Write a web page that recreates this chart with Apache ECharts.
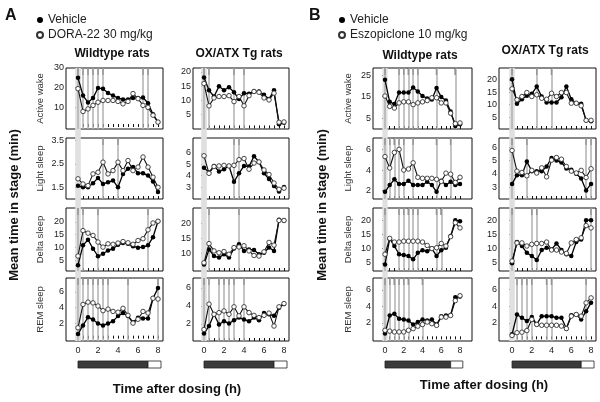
<!DOCTYPE html>
<html><head><meta charset="utf-8">
<script src="https://cdn.jsdelivr.net/npm/echarts@6/dist/echarts.min.js"></script>
<style>html,body{margin:0;padding:0;background:#fff}#c{width:600px;height:402px}</style>
</head><body><div id="c"></div><script>
const hours = [0,0.5,1,1.5,2,2.5,3,3.5,4,4.5,5,5.5,6,6.5,7,7.5,8];
const xLabelValues = [0,2,4,6,8];
const stageNames = ['Active wake','Light sleep','Delta sleep','REM sleep'];
const lightDark = [[0,7],[7,8.3]];

// Panel A, wildtype
const aWtWakeVeh  = [25,16,12.5,14.7,19.8,19.5,17.3,16,14.7,14,14,14.7,14.7,15,12.1,6.5,2.5];
const aWtWakeDrug = [19.5,7.9,9.2,11,12.6,13.5,13.5,13.5,13,11.8,13,17,14.4,11,10,6,2.5];
const aWtLightVeh  = [1.57,1.5,1.5,1.67,1.9,1.64,1.71,1.79,1.5,2.07,2.29,2.36,2.1,2.1,2.0,1.75,1.3];
const aWtLightDrug = [1.86,1.64,1.57,2.07,2.14,2.57,2.07,2.21,2.57,2.21,2.64,2.21,2.36,2.79,2.36,1.93,1.5];
const aWtDeltaVeh  = [3,10.8,13,9.5,6.5,7.5,8.8,9.5,11,11.7,11.4,10.4,9.9,10.1,10.8,14,20.3];
const aWtDeltaDrug = [6.6,16.6,15.6,14.7,12.1,10.1,11.4,11.2,11.7,12.3,11.8,11.2,12.7,13.4,16.9,19.6,20.3];
const aWtRemVeh  = [0.6,1.7,2.75,2.45,1.95,1.7,1.95,2.25,2.9,3.3,2.9,2.1,2.7,2.6,2.6,5.2,6.5];
const aWtRemDrug = [1.4,4.4,4.7,4.6,4.2,3.6,3.8,3.5,3.4,3.9,3.0,2.0,2.5,3.5,3.3,5.2,5.1];
// Panel A, OX/ATX Tg
const aTgWakeVeh  = [18,13.5,11.3,14.9,13.5,14.6,12.8,10.4,12.5,12.3,13.1,13.1,11.9,10.4,13.5,1.5,2.0];
const aTgWakeDrug = [15.9,8,10.8,11.3,11.3,11.6,9.5,11.3,8,11.6,13.1,12.8,10.8,10.1,12.5,2.2,2.3];
const aTgLightVeh  = [4.7,4.27,4.85,4.36,4.56,4.85,3.46,4.2,4.85,4.8,5.7,5.2,4.2,3.7,3.1,2.6,3.0];
const aTgLightDrug = [5.74,4.2,4.8,4.85,4.9,4.85,4.9,5.4,5.5,4.56,5.1,5.2,4.5,4.1,3.35,2.8,2.9];
const aTgDeltaVeh  = [6.4,11.4,9.2,8.7,9.8,8.7,11.7,13.1,10.9,11.4,11.2,9.8,10.3,12,10.9,21.1,20.9];
const aTgDeltaDrug = [7,13.3,10.9,10.3,10.7,9.8,12,12.2,12.6,10.9,9.4,9.2,10.6,13.7,12.8,20.9,20.9];
const aTgRemVeh  = [0.93,1.76,3.07,1.94,2.3,2.05,2.4,2.7,2.5,2.3,2.7,2.4,3.2,3.07,2.9,3.8,4.2];
const aTgRemDrug = [1.38,4.2,3.07,3.25,3.44,3.07,3.9,2.9,3.9,3.25,2.95,2.7,2.95,3.2,1.76,3.9,4.26];
// Panel B, wildtype
const bWtWakeVeh  = [22.8,12.6,11.6,16.9,16.9,16.9,19.3,17.4,15.3,14.2,13.7,19,14.8,13.2,8.1,1.4,2.2];
const bWtWakeDrug = [15.3,10.5,9.7,12.1,12.6,12.6,11.3,12.1,12.6,13.2,14.5,14.5,12.1,12.1,7.3,2.5,2.8];
const bWtLightVeh  = [1.9,2.55,3.1,2.65,2.65,2.97,2.55,2.55,2.55,2.87,2.55,1.9,2.97,2.55,2.87,2.55,2.65];
const bWtLightDrug = [5.3,4.2,5.7,6.0,4.0,4.1,4.7,3.3,3.2,3.2,3.2,3.1,2.9,3.7,3.6,2.8,3.3];
const bWtDeltaVeh  = [4.4,13.5,10.9,8,7.7,7.4,6.2,8.5,9.4,9.1,10,7.4,9.4,10.3,14.4,20,19.6];
const bWtDeltaDrug = [8,13.6,12.3,12.3,12.6,12.6,12.6,12.6,12.3,11.1,10,10.3,11.8,10.9,14.2,19.1,17.3];
const bWtRemVeh  = [0.7,2.9,3.1,2.5,2.4,2.3,1.8,2.1,2.4,2.3,2.4,1.8,2.8,2.9,2.96,5.1,5.2];
const bWtRemDrug = [1.1,1.0,0.9,0.9,0.9,1.1,1.3,1.6,1.8,2.1,1.9,1.7,2.7,2.7,2.9,4.7,5.3];
// Panel B, OX/ATX Tg
const bTgWakeVeh  = [20.3,10.4,12.2,13.6,14.4,17.3,13.3,10.9,10.9,10.9,13,17.3,12.2,10.6,10.4,3.7,3.3];
const bTgWakeDrug = [16.4,12,13.3,14.9,13.3,14,12.6,12.2,14.6,13.3,14.9,14.9,10.6,10.6,9.6,3.7,3.7];
const bTgLightVeh  = [3.24,3.9,3.9,4.93,4.2,4.2,4.2,4.55,5.2,5.0,4.86,4.4,4.3,4.0,3.65,2.75,3.24];
const bTgLightDrug = [5.76,4.2,4.1,3.85,4.26,4.06,4.45,3.77,5.03,5.23,5.1,4.55,4.2,4.06,4.26,3.72,4.38];
const bTgDeltaVeh  = [4.8,12.3,10.9,8.5,7.4,6,9.5,10.3,9.7,11.8,9.5,8,7.4,12.3,13.2,20,20];
const bTgDeltaDrug = [5.6,12,12,10.9,11.5,11.8,11.8,12.3,9.5,9.5,8.8,8.3,12,13.2,13.8,18.1,17.3];
const bTgRemVeh  = [0.6,3.0,2.6,2.2,2.7,1.8,2.8,2.8,2.8,2.6,2.6,1.3,2.9,3.0,2.4,3.4,4.4];
const bTgRemDrug = [0.47,0.8,0.86,1.06,2.4,1.8,1.7,1.7,1.7,1.7,1.6,1.3,2.8,3.0,2.8,4.4,5.0];

// Significant time points (h)
const aWtSig = [[0,0.5,1,1.5,2,2.5,6.5,7],[2.5,4],[0,0.5,2,7],[0,0.5,1,1.5,2,2.5,3,5,8]];
const aTgSig = [[0,0.5,3,4],[3,3.5],[0.5,3.5],[0,0.5,1.5,2,2.5,3,4]];
const bWtSig = [[0,1.5,2,2.5,3,3.5,5.5,7.5],[0,0.5,1,1.5,2,3,5.5,7],[0,1.5,2,2.5,3,3.5,5.5,6],[0,0.5,1,1.5,2,2.5,4]];
const bTgSig = [[0,2.5,4],[0,1.5,7.5,8],[0,2,2.5,8],[0.5,1,1.5,2,3.5,4,7.5]];

// Y tick labels
const aWtYTicks = [[10,20,30],[1.5,2.5,3.5],[5,10,15,20],[2,4,6]];
const aTgYTicks = [[5,10,15,20],[3,4,5,6],[10,15,20],[2,4,6]];
const bWtYTicks = [[5,15,25],[2,4,6],[5,10,15,20],[2,4,6]];
const bTgYTicks = [[5,10,15,20],[3,4,5,6],[5,10,15,20],[2,4,6]];

const FONT = 'Liberation Sans, Arial, Helvetica, sans-serif';
const rowTop = [68,138,208,278];
const rowH = [61,61,63,63];

const cols = [
  {left:66, width:97, xmin:-1.2, xmax:8.5, veh:'Vehicle', drug:'DORA-22 30 mg/kg', stageLabels:true, nameGap:21,
   veh4:[aWtWakeVeh,aWtLightVeh,aWtDeltaVeh,aWtRemVeh], drug4:[aWtWakeDrug,aWtLightDrug,aWtDeltaDrug,aWtRemDrug],
   sig:aWtSig, ticks:aWtYTicks, yr:[[-1,30],[1.0,3.6],[0.7,25.5],[-0.3,7.8]]},
  {left:193, width:96, xmin:-1.1, xmax:8.5, veh:'Vehicle', drug:'DORA-22 30 mg/kg', stageLabels:false,
   veh4:[aTgWakeVeh,aTgLightVeh,aTgDeltaVeh,aTgRemVeh], drug4:[aTgWakeDrug,aTgLightDrug,aTgDeltaDrug,aTgRemDrug],
   sig:aTgSig, ticks:aTgYTicks, yr:[[-0.2,21.4],[1.95,7.3],[4.3,25],[0.1,7.1]]},
  {left:373, width:99, xmin:-1.28, xmax:9.28, veh:'Vehicle', drug:'Eszopiclone 10 mg/kg', stageLabels:true, nameGap:20,
   veh4:[bWtWakeVeh,bWtLightVeh,bWtDeltaVeh,bWtRemVeh], drug4:[bWtWakeDrug,bWtLightDrug,bWtDeltaDrug,bWtRemDrug],
   sig:bWtSig, ticks:bWtYTicks, yr:[[0,28.3],[1.2,7.1],[2.1,24.3],[-0.2,7.45]]},
  {left:499, width:97, xmin:-1.32, xmax:8.5, veh:'Vehicle', drug:'Eszopiclone 10 mg/kg', stageLabels:false,
   veh4:[bTgWakeVeh,bTgLightVeh,bTgDeltaVeh,bTgRemVeh], drug4:[bTgWakeDrug,bTgLightDrug,bTgDeltaDrug,bTgRemDrug],
   sig:bTgSig, ticks:bTgYTicks, yr:[[0.2,24.8],[2.1,6.7],[2.1,24.3],[-0.2,7.4]]}
];

const grids=[], xAxes=[], yAxes=[], series=[];
function addGrid(g){grids.push(g); return grids.length-1;}

cols.forEach((c)=>{
  // grey band at dosing time
  let gi = addGrid({left:c.left, top:68, width:c.width, height:273, show:false});
  xAxes.push({gridIndex:gi, type:'value', min:c.xmin, max:c.xmax, show:false});
  yAxes.push({gridIndex:gi, type:'value', min:0, max:1, show:false});
  series.push({type:'line', xAxisIndex:gi, yAxisIndex:gi, data:[[0,0.5]], showSymbol:false, silent:true, z:1,
    lineStyle:{opacity:0},
    markArea:{silent:true, itemStyle:{color:'#e0e0e0'}, data:[[{xAxis:-0.28},{xAxis:0.28}]]}});

  for(let r=0;r<4;r++){
    gi = addGrid({left:c.left, top:rowTop[r], width:c.width, height:rowH[r], show:true,
      borderColor:'#111', borderWidth:1, backgroundColor:'transparent'});
    xAxes.push({gridIndex:gi, type:'value', min:c.xmin, max:c.xmax,
      axisLine:{show:false}, splitLine:{show:false},
      axisTick:{show:true, inside:true, length:3, customValues:hours, lineStyle:{color:'#111', width:1}},
      axisLabel:{show:r===3, customValues:xLabelValues, fontSize:9, color:'#222', margin:5, fontFamily:FONT}});
    yAxes.push({gridIndex:gi, type:'value', min:c.yr[r][0], max:c.yr[r][1],
      axisLine:{show:false}, splitLine:{show:false},
      axisTick:{show:true, inside:false, length:3, customValues:c.ticks[r], lineStyle:{color:'#111', width:1}},
      axisLabel:{customValues:c.ticks[r], fontSize:9, margin:2, color:'#222', fontFamily:FONT},
      name: c.stageLabels ? stageNames[r] : '', nameLocation:'middle', nameGap:c.nameGap||20,
      nameTextStyle:{fontSize:9.5, color:'#333', fontFamily:FONT}});
    const ymax = c.yr[r][1];
    // significance lines
    series.push({type:'line', xAxisIndex:gi, yAxisIndex:gi, data:[], silent:true, z:2,
      markLine:{silent:true, symbol:'none', label:{show:false}, animation:false,
        lineStyle:{color:'#b0b0b0', width:1.5, type:'solid'},
        data: c.sig[r].map(t=>({xAxis:t}))}});
    series.push({type:'scatter', xAxisIndex:gi, yAxisIndex:gi, silent:true, z:3, clip:false,
      symbol:'rect', symbolSize:[1.4,7], symbolOffset:[0,3.5], itemStyle:{color:'#111'},
      data: c.sig[r].map(t=>[t, ymax])});
    series.push({type:'line', name:c.veh, xAxisIndex:gi, yAxisIndex:gi, z:5,
      data: hours.map((h,i)=>[h, c.veh4[r][i]]),
      symbol:'circle', symbolSize:4.5, showAllSymbol:true,
      itemStyle:{color:'#000'}, lineStyle:{color:'#000', width:1.3}, emphasis:{disabled:true}});
    series.push({type:'line', name:c.drug, xAxisIndex:gi, yAxisIndex:gi, z:6,
      data: hours.map((h,i)=>[h, c.drug4[r][i]]),
      symbol:'circle', symbolSize:4.5, showAllSymbol:true,
      itemStyle:{color:'#fff', borderColor:'#333', borderWidth:0.9}, lineStyle:{color:'#111', width:1.1}, emphasis:{disabled:true}});
  }

  // light / dark bar
  gi = addGrid({left:c.left, top:361, width:c.width, height:7, show:false});
  xAxes.push({gridIndex:gi, type:'value', min:c.xmin, max:c.xmax, show:false});
  yAxes.push({gridIndex:gi, type:'value', min:0, max:1, show:false});
  series.push({type:'custom', xAxisIndex:gi, yAxisIndex:gi, silent:true,
    data: lightDark.map((d,i)=>[d[0], d[1], i]),
    renderItem:(p,api)=>{
      const s = api.coord([api.value(0),1]);
      const e = api.coord([api.value(1),0]);
      return {type:'rect', shape:{x:s[0], y:s[1], width:e[0]-s[0], height:e[1]-s[1]},
        style:{fill: api.value(2)===0 ? '#3b3b3b' : '#fff', stroke:'#222', lineWidth:0.8}};
    }});
});

function txt(x,y,text,size,bold,rot,align){
  return {type:'text', x:x, y:y, rotation:rot||0, silent:true,
    style:{text:text, fontSize:size, fontWeight:bold?'bold':'normal', fontFamily:FONT, fill:'#111',
      textAlign:align||'center', textVerticalAlign:'middle'}};
}

const legendBase = {orient:'vertical', top:9, itemWidth:6, itemHeight:6, itemGap:3,
  icon:'circle', selectedMode:false, textStyle:{fontSize:12, color:'#222', fontFamily:FONT}};
const option = {
  animation:false,
  backgroundColor:'#fff',
  grid:grids, xAxis:xAxes, yAxis:yAxes, series:series,
  legend:[
    Object.assign({data:['Vehicle','DORA-22 30 mg/kg'], left:31}, legendBase),
    Object.assign({data:['Vehicle','Eszopiclone 10 mg/kg'], left:333}, legendBase)
  ],
  graphic:[
    txt(5,16,'A',16,true,0,'left'),
    txt(309,16,'B',16,true,0,'left'),
    txt(112,54,'Wildtype rats',12,true),
    txt(239,54,'OX/ATX Tg rats',12,true),
    txt(420,56,'Wildtype rats',12,true),
    txt(545,51,'OX/ATX Tg rats',12,true),
    txt(14,205,'Mean time in stage (min)',13,true,Math.PI/2),
    txt(322,205,'Mean time in stage (min)',13,true,Math.PI/2),
    txt(177,389,'Time after dosing (h)',13,true),
    txt(484,385,'Time after dosing (h)',13,true)
  ]
};
const chart = echarts.init(document.getElementById('c'), null, {renderer:'canvas'});
chart.setOption(option);
</script></body></html>
